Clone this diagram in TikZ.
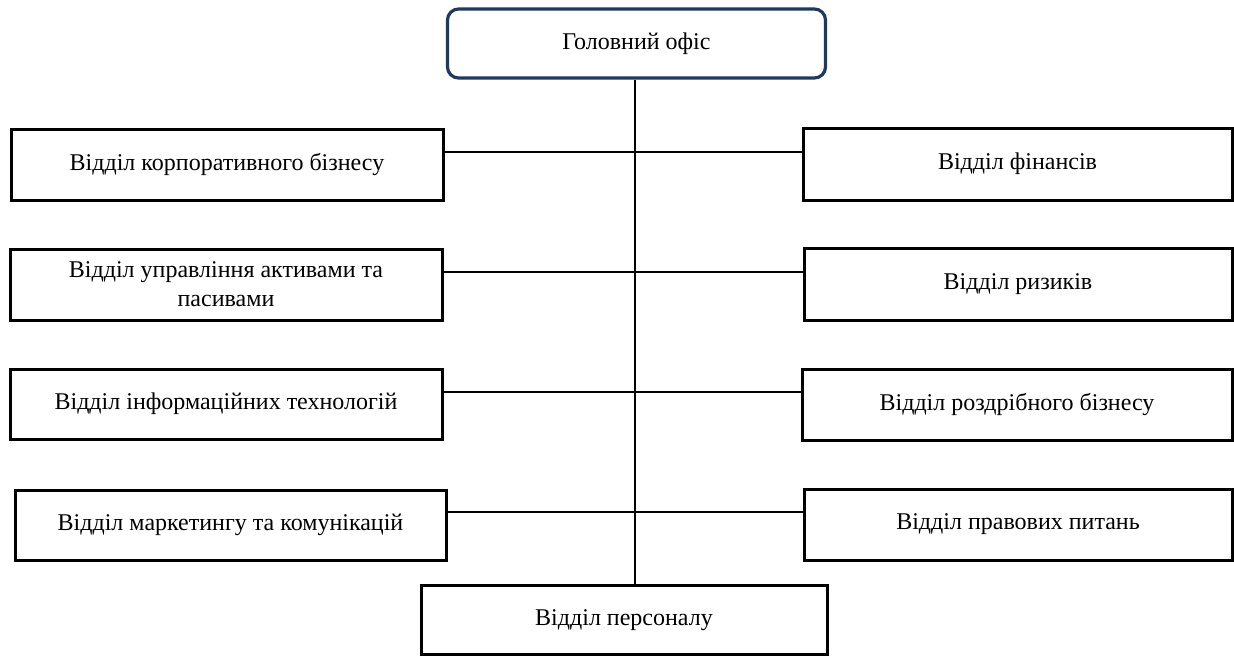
\documentclass[tikz,border=0pt]{standalone}
\usepackage{fontspec}
\setmainfont{Liberation Serif}
\definecolor{navy}{HTML}{1F3A62}
\begin{document}
\begin{tikzpicture}[x=1pt,y=-1pt,
  dept/.style={draw=black,line width=3pt,fill=white,inner sep=0pt,align=center,
    font=\fontsize{24}{29}\selectfont},
  head/.style={draw=navy,line width=3.2pt,rounded corners=11pt,fill=white,inner sep=0pt,
    font=\fontsize{24}{29}\selectfont},
  link/.style={draw=black,line width=1.3pt}]
\useasboundingbox (0,0) rectangle (1234,656);
\fill[white] (0,0) rectangle (1234,656);
% nodes
\node[head,minimum width=378pt,minimum height=69pt] (top) at (636.5,43.5) {Головний офіс};
\node[dept,minimum width=432pt,minimum height=71pt] (L1) at (227,164.5) {Відділ корпоративного бізнесу};
\node[dept,minimum width=429pt,minimum height=72pt] (R1) at (1017.5,164) {Відділ фінансів};
\node[dept,minimum width=432pt,minimum height=71pt] (L2) at (226,284.5) {Відділ управління активами та\\пасивами};
\node[dept,minimum width=428pt,minimum height=72pt] (R2) at (1018,284) {Відділ ризиків};
\node[dept,minimum width=432pt,minimum height=70pt] (L3) at (226,404) {Відділ інформаційних технологій};
\node[dept,minimum width=430pt,minimum height=71pt] (R3) at (1017,404.5) {Відділ роздрібного бізнесу};
\node[dept,minimum width=431pt,minimum height=70pt] (L4) at (230.5,525) {Відділ маркетингу та комунікацій};
\node[dept,minimum width=428pt,minimum height=71pt] (R4) at (1018,524.5) {Відділ правових питань};
\node[dept,minimum width=406pt,minimum height=69pt] (B) at (624,620) {Відділ персоналу};
% junctions on the trunk
\coordinate (j1) at (635,152);
\coordinate (j2) at (635,272);
\coordinate (j3) at (635,392);
\coordinate (j4) at (635,512);
% connectors
\draw[link] (top.south -| j1) -- (j1 |- B.north);
\draw[link] (j1 -| L1.east) -- (j1 -| R1.west);
\draw[link] (j2 -| L2.east) -- (j2 -| R2.west);
\draw[link] (j3 -| L3.east) -- (j3 -| R3.west);
\draw[link] (j4 -| L4.east) -- (j4 -| R4.west);
\end{tikzpicture}
\end{document}
